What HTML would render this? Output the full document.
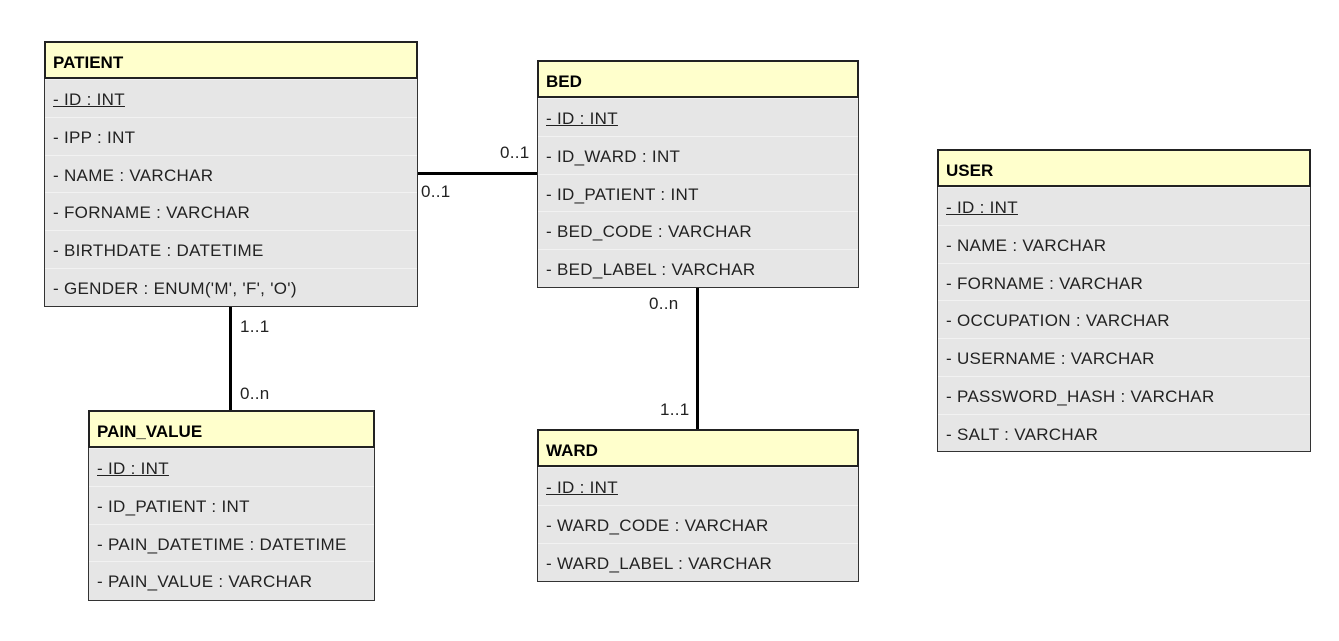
<!DOCTYPE html>
<html><head><meta charset="utf-8"><style>
body{margin:0;width:1339px;height:641px;background:#fff;position:relative;overflow:hidden;font-family:"Liberation Sans",sans-serif;}
.t{position:absolute;border:1px solid #333;background:#e6e6e6;box-sizing:border-box;}
.h{height:38px;background:#ffffcc;border:2px solid #222;margin:-1px -1px 0 -1px;box-sizing:border-box;font-weight:bold;font-size:17px;line-height:39px;padding-left:7px;color:#000;}
.r{height:37.8px;line-height:39px;font-size:17px;letter-spacing:0.3px;color:#222;padding-left:8px;border-top:1px solid #f2f2f2;box-sizing:border-box;white-space:nowrap;}
.r:first-of-type{border-top:none}
.u{text-decoration:underline}
.l{position:absolute;background:#000;}
.lb{position:absolute;font-size:17px;color:#222;letter-spacing:0.3px;}
</style></head><body>
<div class="t" style="left:44px;top:41px;width:374px;height:266px">
<div class="h">PATIENT</div>
<div class="r"><span class="u">- ID : INT</span></div>
<div class="r">- IPP : INT</div>
<div class="r">- NAME : VARCHAR</div>
<div class="r">- FORNAME : VARCHAR</div>
<div class="r">- BIRTHDATE : DATETIME</div>
<div class="r">- GENDER : ENUM('M', 'F', 'O')</div>
</div>
<div class="t" style="left:537px;top:60px;width:322px;height:228px">
<div class="h">BED</div>
<div class="r"><span class="u">- ID : INT</span></div>
<div class="r">- ID_WARD : INT</div>
<div class="r">- ID_PATIENT : INT</div>
<div class="r">- BED_CODE : VARCHAR</div>
<div class="r">- BED_LABEL : VARCHAR</div>
</div>
<div class="t" style="left:937px;top:149px;width:374px;height:303px">
<div class="h">USER</div>
<div class="r"><span class="u">- ID : INT</span></div>
<div class="r">- NAME : VARCHAR</div>
<div class="r">- FORNAME : VARCHAR</div>
<div class="r">- OCCUPATION : VARCHAR</div>
<div class="r">- USERNAME : VARCHAR</div>
<div class="r">- PASSWORD_HASH : VARCHAR</div>
<div class="r">- SALT : VARCHAR</div>
</div>
<div class="t" style="left:88px;top:410px;width:287px;height:191px">
<div class="h">PAIN_VALUE</div>
<div class="r"><span class="u">- ID : INT</span></div>
<div class="r">- ID_PATIENT : INT</div>
<div class="r">- PAIN_DATETIME : DATETIME</div>
<div class="r">- PAIN_VALUE : VARCHAR</div>
</div>
<div class="t" style="left:537px;top:429px;width:322px;height:153px">
<div class="h">WARD</div>
<div class="r"><span class="u">- ID : INT</span></div>
<div class="r">- WARD_CODE : VARCHAR</div>
<div class="r">- WARD_LABEL : VARCHAR</div>
</div>
<div class="l" style="left:418px;top:172px;width:119px;height:3px"></div>
<div class="l" style="left:229px;top:307px;width:3px;height:103px"></div>
<div class="l" style="left:696px;top:288px;width:3px;height:141px"></div>
<div class="lb" style="left:500px;top:143px">0..1</div>
<div class="lb" style="left:421px;top:182px">0..1</div>
<div class="lb" style="left:240px;top:317px">1..1</div>
<div class="lb" style="left:240px;top:384px">0..n</div>
<div class="lb" style="left:649px;top:294px">0..n</div>
<div class="lb" style="left:660px;top:400px">1..1</div>
</body></html>
